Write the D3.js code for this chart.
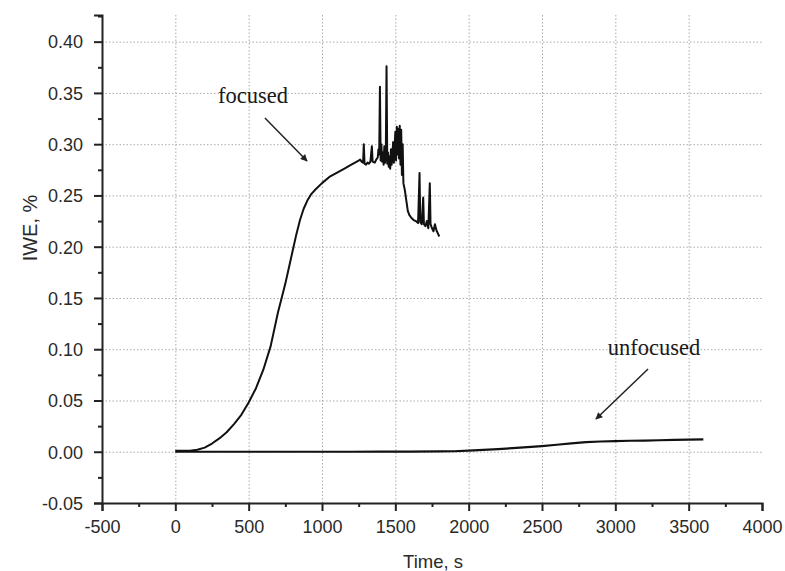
<!DOCTYPE html>
<html>
<head>
<meta charset="utf-8">
<script src="https://cdn.jsdelivr.net/npm/d3@7"></script>
<style>
  html, body { margin: 0; padding: 0; background: #fff; }
  svg { display: block; }
</style>
</head>
<body>
<svg id="chart" width="785" height="571"></svg>
<script>
// ---- data ----
const focusedTime = [0,50,100,150,200,250,300,350,400,450,500,550,600,650,700,725,750,775,800,825,850,875,900,925,950,1000,1050,1100,1150,1200,1250,
  1260,1270,1280,1285,1290,1300,1310,1320,1330,1340,1345,1360,1370,1380,1385,1390,1395,1400,1405,1410,1415,1420,1425,1430,1435,1440,1445,1450,1455,1460,1465,1470,1475,1480,1485,1490,1495,1500,1505,1510,1515,1520,1525,1530,1535,1540,1545,1550,1555,1565,1575,1585,1595,1610,1625,1640,1655,1665,1670,1680,1690,1695,1705,1715,1725,1735,1740,1750,1760,1770,1780,1790,1800];
const focusedIWE = [0.001,0.001,0.001,0.002,0.004,0.008,0.013,0.019,0.027,0.036,0.048,0.062,0.080,0.103,0.136,0.150,0.164,0.180,0.196,0.212,0.226,0.237,0.245,0.251,0.255,0.262,0.268,0.272,0.276,0.280,0.284,
  0.285,0.283,0.282,0.300,0.281,0.280,0.282,0.281,0.283,0.298,0.283,0.282,0.285,0.287,0.295,0.290,0.356,0.284,0.300,0.283,0.292,0.280,0.298,0.282,0.290,0.376,0.281,0.292,0.278,0.288,0.276,0.295,0.280,0.290,0.302,0.282,0.298,0.312,0.284,0.317,0.290,0.315,0.286,0.318,0.280,0.314,0.270,0.300,0.262,0.255,0.245,0.235,0.231,0.228,0.226,0.225,0.223,0.272,0.224,0.222,0.248,0.222,0.220,0.225,0.218,0.262,0.222,0.218,0.215,0.222,0.216,0.213,0.210];

const unfocusedTime = [0,200,400,600,800,1000,1200,1400,1600,1800,1900,2000,2100,2200,2300,2400,2500,2600,2700,2800,2900,3000,3100,3200,3300,3400,3500,3600];
const unfocusedIWE = [0,0,0,0,0,0,0,0.0001,0.0002,0.0003,0.0005,0.001,0.0018,0.0026,0.0035,0.0045,0.0055,0.0068,0.0082,0.0093,0.0100,0.0104,0.0107,0.0109,0.0112,0.0115,0.0118,0.0120];

const xTicks = [-500,0,500,1000,1500,2000,2500,3000,3500,4000];
const yTicks = [-0.05,0,0.05,0.10,0.15,0.20,0.25,0.30,0.35,0.40];
const xTitle = "Time, s";
const yTitle = "IWE, %";
const annotations = [
  {text: "focused", at: [898, 0.2836], from: [611, 0.3255]},
  {text: "unfocused", at: [2868, 0.0319], from: [3223, 0.0807]}
];

// ---- layout ----
const svg = d3.select("#chart");
const mLeft = 102, mRight = 762, mTop = 15, mBottom = 503;
const x = d3.scaleLinear().domain([-500, 4000]).range([mLeft, mRight]);
const y = d3.scaleLinear().domain([-0.05, 0.426]).range([mBottom, mTop]);

const xMinor = d3.range(-500, 4001, 250).filter(v => !xTicks.includes(v));
const yMinor = d3.range(-0.05, 0.426, 0.025).map(v => +v.toFixed(3)).filter(v => !yTicks.some(t => Math.abs(t - v) < 1e-6));

const grid = svg.append("g").attr("stroke", "#ababab").attr("stroke-width", 1).attr("stroke-dasharray", "1.5,2");
grid.selectAll("line.v").data(xTicks.filter(v => v > -500 && v < 4000)).join("line")
  .attr("x1", d => x(d) + 0.5).attr("x2", d => x(d) + 0.5).attr("y1", mBottom).attr("y2", mTop);
grid.selectAll("line.h").data(yTicks.filter(v => v > -0.05)).join("line")
  .attr("x1", mLeft).attr("x2", mRight).attr("y1", d => y(d) + 0.5).attr("y2", d => y(d) + 0.5);

// axes
const font = "'Liberation Sans', Arial, sans-serif";
const hy = s => s.replace("\u2212", "-");
const xAxis = svg.append("g").attr("transform", `translate(0,${mBottom})`)
  .call(d3.axisBottom(x).tickValues(xTicks).tickFormat(d => hy(d3.format("d")(d))).tickSizeOuter(0).tickSize(8).tickPadding(5));
svg.append("g").attr("transform", `translate(0,${mBottom})`)
  .call(d3.axisBottom(x).tickValues(xMinor).tickFormat("").tickSizeOuter(0).tickSize(4))
  .call(g => g.select(".domain").remove());
const yAxis = svg.append("g").attr("transform", `translate(${mLeft},0)`)
  .call(d3.axisLeft(y).tickValues(yTicks).tickFormat(d => hy(d3.format(".2f")(d))).tickSizeOuter(0).tickSize(8).tickPadding(11));
svg.append("g").attr("transform", `translate(${mLeft},0)`)
  .call(d3.axisLeft(y).tickValues(yMinor).tickFormat("").tickSizeOuter(0).tickSize(4))
  .call(g => g.select(".domain").remove());

svg.selectAll(".domain").attr("stroke", "#222").attr("stroke-width", 2);
svg.selectAll(".tick line").attr("stroke", "#222").attr("stroke-width", 2);
svg.selectAll(".tick text").attr("font-family", font).attr("font-size", 18).attr("fill", "#2a2a2a");
xAxis.selectAll(".tick text").attr("dy", "0.92em");
yAxis.selectAll(".tick text").attr("dy", "0.35em");

svg.append("text").attr("x", (mLeft + mRight) / 2 + 1).attr("y", 568).attr("text-anchor", "middle")
  .attr("font-family", font).attr("font-size", 18.5).attr("fill", "#2a2a2a").text(xTitle);
svg.append("text").attr("transform", `translate(37,228) rotate(-90)`).attr("text-anchor", "middle")
  .attr("font-family", font).attr("font-size", 20).attr("fill", "#2a2a2a").text(yTitle);

// lines
const line = d3.line().x(d => x(d[0])).y(d => y(d[1]));
svg.append("path").datum(unfocusedTime.map((t, i) => [t, unfocusedIWE[i]]))
  .attr("d", line).attr("fill", "none").attr("stroke", "#111").attr("stroke-width", 2.2);
svg.append("path").datum(focusedTime.map((t, i) => [t, focusedIWE[i]]))
  .attr("d", line).attr("fill", "none").attr("stroke", "#111").attr("stroke-width", 2).attr("stroke-linejoin", "round");

// annotations
const defs = svg.append("defs");
defs.append("marker").attr("id", "arr").attr("viewBox", "0 0 10 10").attr("refX", 9).attr("refY", 5)
  .attr("markerWidth", 10).attr("markerHeight", 7).attr("markerUnits", "userSpaceOnUse").attr("orient", "auto")
  .append("path").attr("d", "M0,0 L10,5 L0,10 z").attr("fill", "#222");

annotations.forEach(a => {
  svg.append("line")
    .attr("x1", x(a.from[0])).attr("y1", y(a.from[1]))
    .attr("x2", x(a.at[0])).attr("y2", y(a.at[1]))
    .attr("stroke", "#222").attr("stroke-width", 1.5).attr("marker-end", "url(#arr)");
});

const serif = "'Liberation Serif', 'Times New Roman', serif";
svg.append("text").attr("x", 253).attr("y", 103).attr("text-anchor", "middle")
  .attr("font-family", serif).attr("font-size", 22.5).attr("fill", "#1a1a1a").text(annotations[0].text);
svg.append("text").attr("x", 654).attr("y", 355).attr("text-anchor", "middle")
  .attr("font-family", serif).attr("font-size", 22.5).attr("fill", "#1a1a1a").text(annotations[1].text);
</script>
</body>
</html>
